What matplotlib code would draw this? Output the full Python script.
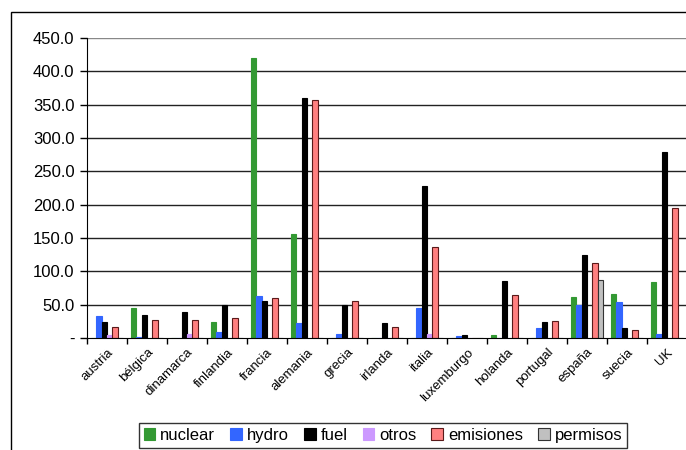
import matplotlib
matplotlib.use("Agg")
import matplotlib.pyplot as plt
from matplotlib.patches import Rectangle
from matplotlib.ticker import FixedLocator, FuncFormatter
import numpy as np

plt.rcParams['font.family'] = ['Liberation Sans', 'DejaVu Sans']

countries = ["austria", "bélgica", "dinamarca", "finlandia", "francia", "alemania",
             "grecia", "irlanda", "italia", "luxemburgo", "holanda", "portugal",
             "españa", "suecia", "UK"]

nuclear   = [0, 45, 0, 23.5, 420, 156, 0, 0, 0, 0, 4, 0, 61, 66, 83.5]
hydro     = [33, 1, 0, 9.5, 63, 22, 6, 0, 44.5, 3, 0, 14.5, 49.5, 53.5, 6]
fuel      = [23.5, 34.5, 38.5, 49.5, 55.5, 360.5, 49.5, 22, 228, 4, 85.5, 23.5, 124, 14.5, 279.5]
otros     = [4, 0, 6, 0, 0, 0, 0, 0, 6, 0, 0, 0, 0, 0, 0]
emisiones = [16.5, 27, 27, 30.5, 60.5, 356.5, 55, 16.5, 136, 0, 64.5, 25, 113, 12.5, 194.5]
permisos  = [0, 0, 0, 0, 0, 0, 0, 0, 0, 0, 0, 0, 86.5, 0, 0]

series = [
    ("nuclear", nuclear, "#339933", "#339933"),
    ("hydro", hydro, "#3366ff", "#3366ff"),
    ("fuel", fuel, "#000000", "#000000"),
    ("otros", otros, "#cc99ff", "#cc99ff"),
    ("emisiones", emisiones, "#ff8080", "#5a1a1a"),
    ("permisos", permisos, "#c0c0c0", "#333333"),
]

yticks = [0, 50, 100, 150, 200, 250, 300, 350, 400, 450]

fig = plt.figure(figsize=(6.86, 4.5), dpi=100)
fig.patch.set_facecolor("white")

# outer chart frame
fig.add_artist(Rectangle((11 / 686, -0.01), 1.0, (450 - 12) / 450 + 0.01,
                         transform=fig.transFigure, fill=False,
                         edgecolor="black", linewidth=1.0))

ax = fig.add_axes([87 / 686, (450 - 338) / 450, 600 / 686, 300 / 450])

n = len(countries)
x = np.arange(n)
bw = 0.1333
start = 0.1
for i, (name, vals, fc, ec) in enumerate(series):
    ax.bar(x + start + bw * (i + 0.5), vals, width=bw, color=fc,
           edgecolor=ec, linewidth=0.8, label=name, zorder=3)

ax.set_xlim(0, n)
ax.set_ylim(0, 450)

for y in yticks[1:]:
    ax.axhline(y, color="#222222" if y < 450 else "#888888", linewidth=1.0, zorder=1)

ax.set_yticks(yticks)
ax.yaxis.set_major_formatter(FuncFormatter(lambda v, p: "-" if v == 0 else f"{v:.1f}"))
ax.tick_params(axis="y", direction="out", length=5, width=1, labelsize=12,
               colors="black", pad=4)

ax.xaxis.set_major_locator(FixedLocator(x + 0.5))
ax.set_xticklabels(countries, rotation=45, ha="right", rotation_mode="anchor",
                   fontsize=9.5)
ax.tick_params(axis="x", which="major", length=0, pad=6)
ax.xaxis.set_minor_locator(FixedLocator(np.arange(n + 1)))
ax.tick_params(axis="x", which="minor", direction="out", length=4, width=1)

for s in ["top", "right"]:
    ax.spines[s].set_visible(False)
ax.spines["left"].set_color("black")
ax.spines["bottom"].set_color("black")
ax.spines["left"].set_zorder(4)
ax.spines["bottom"].set_zorder(4)

leg = fig.legend(loc="lower center", bbox_to_anchor=(383 / 686, 2 / 450), ncol=6,
                 frameon=True, fancybox=False, edgecolor="black", fontsize=12,
                 handlelength=0.7, handleheight=0.7, handletextpad=0.3,
                 columnspacing=0.9, borderpad=0.3, borderaxespad=0)
leg.get_frame().set_linewidth(1.0)
for h, (_, _, fc, ec) in zip(leg.legend_handles, series):
    h.set_edgecolor(ec)
    h.set_linewidth(0.8)

fig.savefig("out.png", dpi=100)
